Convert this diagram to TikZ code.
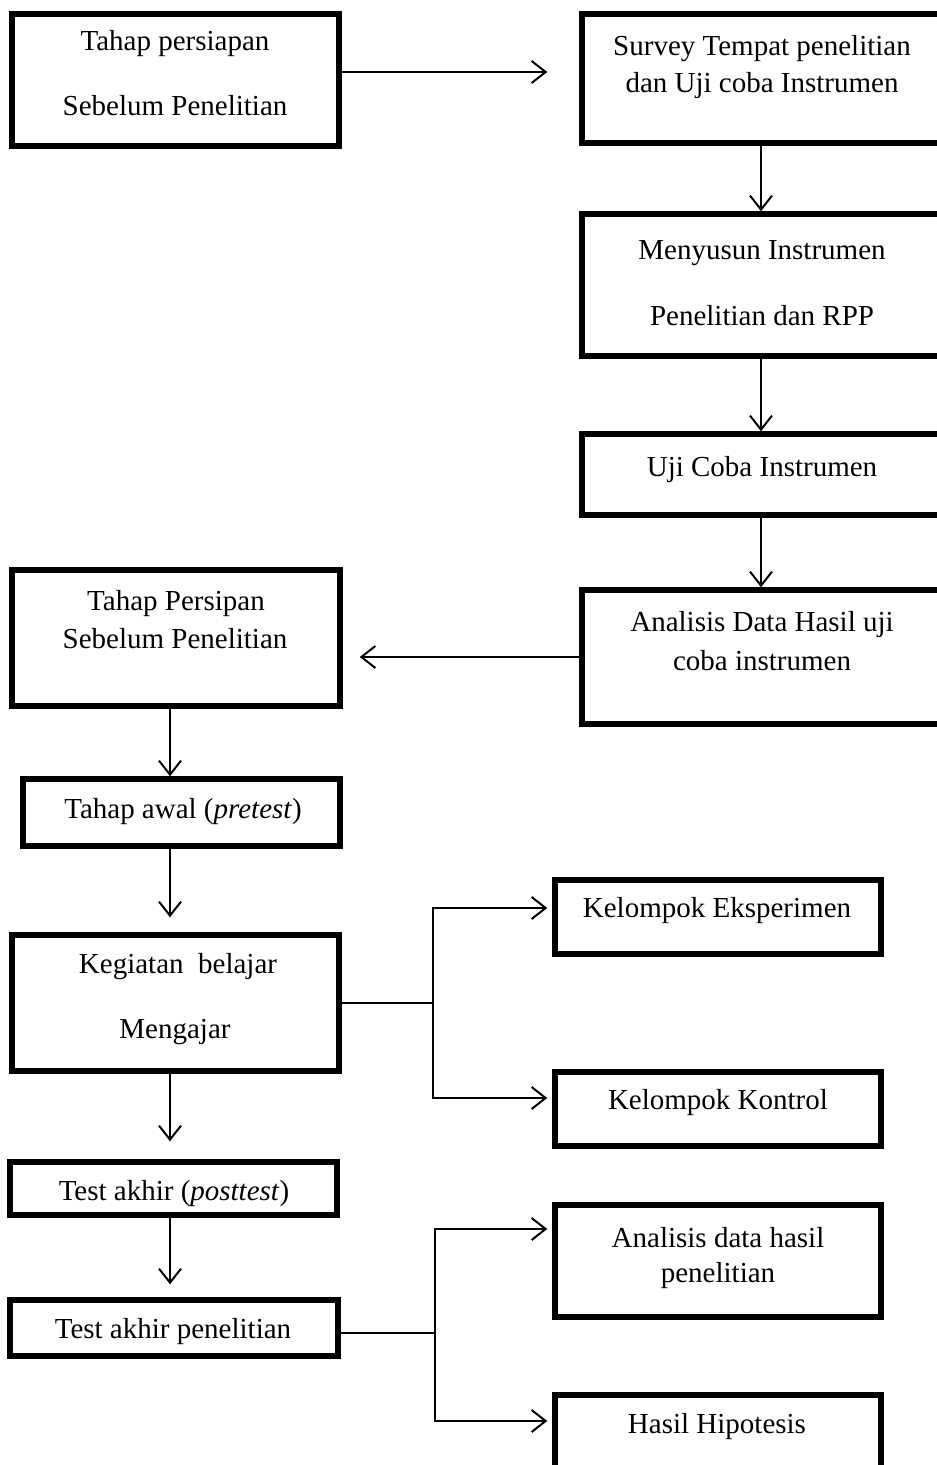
\documentclass[tikz,border=0pt]{standalone}
\usepackage{fontspec}
\setmainfont{Liberation Serif}
\usetikzlibrary{arrows.meta}
\begin{document}
\begin{tikzpicture}[x=1pt,y=-1pt,
  box/.style={draw,line width=5.5pt,rectangle,inner sep=0pt},
  txt/.style={anchor=base,inner sep=0pt,font=\fontsize{29}{34}\selectfont},
  conn/.style={line width=2pt},
  arr/.style={conn,-{Straight Barb[length=14pt,width=22pt]}}]
\useasboundingbox (0,0) rectangle (937,1465);
\clip (0,0) rectangle (937,1465);
\fill[white] (0,0) rectangle (937,1465);
% boxes
\node[box,minimum width=327,minimum height=132] (b1) at (175.5,80) {};
\node[box,minimum width=358,minimum height=129] (b2) at (761,78.5) {};
\node[box,minimum width=358,minimum height=142] (b3) at (761,285) {};
\node[box,minimum width=358,minimum height=81] (b4) at (761,474.5) {};
\node[box,minimum width=358,minimum height=134] (b5) at (761,657) {};
\node[box,minimum width=328,minimum height=136] (b6) at (176,638) {};
\node[box,minimum width=317,minimum height=67] (b7) at (181.5,812.5) {};
\node[box,minimum width=327,minimum height=136] (b8) at (175.5,1003) {};
\node[box,minimum width=326,minimum height=74] (b9) at (718,917) {};
\node[box,minimum width=326,minimum height=74] (b10) at (718,1109) {};
\node[box,minimum width=327,minimum height=53] (b11) at (173.5,1188.5) {};
\node[box,minimum width=328,minimum height=56] (b12) at (174,1328) {};
\node[box,minimum width=326,minimum height=112] (b13) at (718,1261) {};
\node[box,minimum width=326,minimum height=85] (b14) at (718,1437.5) {};
% texts
\node[txt] (t1a) at (175,50) {Tahap persiapan};
\node[txt] (t1b) at (175,115) {Sebelum Penelitian};
\node[txt] (t2a) at (762,55) {Survey Tempat penelitian};
\node[txt] (t2b) at (762,92) {dan Uji coba Instrumen};
\node[txt] (t3a) at (762,259) {Menyusun Instrumen};
\node[txt] (t3b) at (762,325) {Penelitian dan RPP};
\node[txt] (t4) at (762,476) {Uji Coba Instrumen};
\node[txt] (t5a) at (762,631) {Analisis Data Hasil uji};
\node[txt] (t5b) at (762,670) {coba instrumen};
\node[txt] (t6a) at (176,610) {Tahap Persipan};
\node[txt] (t6b) at (175,648) {Sebelum Penelitian};
\node[txt] (t7) at (183,818) {Tahap awal (\textit{pretest})};
\node[txt] (t8a) at (178,973) {Kegiatan\ \ belajar};
\node[txt] (t8b) at (175,1038) {Mengajar};
\node[txt] (t9) at (717,917) {Kelompok Eksperimen};
\node[txt] (t10) at (718,1109) {Kelompok Kontrol};
\node[txt] (t11) at (174,1200) {Test akhir (\textit{posttest})};
\node[txt] (t12) at (173,1338) {Test akhir penelitian};
\node[txt] (t13a) at (718,1247) {Analisis data hasil};
\node[txt] (t13b) at (718,1282) {penelitian};
\node[txt] (t14) at (717,1433) {Hasil Hipotesis};
% helper coordinates
\coordinate (cx) at (170,0);
\coordinate (a12) at (0,72);
\coordinate (j1) at (433,0);
\coordinate (e9) at (0,908);
\coordinate (e10) at (0,1098);
\coordinate (j2) at (435,0);
\coordinate (e12) at (0,1333);
\coordinate (e13) at (0,1229);
\coordinate (e14) at (0,1421);
% connectors
\draw[arr,shorten >=32pt] (b1.east |- a12) -- (b2.west |- a12);
\draw[arr] (b2.south) -- (b3.north);
\draw[arr] (b3.south) -- (b4.north);
\draw[arr] (b4.south) -- (b5.north);
\draw[arr,shorten >=17pt] (b5.west) -- (b5.west -| b6.east);
\draw[arr] (b6.south -| cx) -- (b7.north -| cx);
\draw[arr,shorten >=15pt] (b7.south -| cx) -- (b8.north -| cx);
\draw[arr,shorten >=18pt] (b8.south -| cx) -- (b11.north -| cx);
\draw[arr,shorten >=13pt] (b11.south -| cx) -- (b12.north -| cx);
\draw[conn] (b8.east) -- (b8.east -| j1);
\draw[arr,shorten >=5pt] (b8.east -| j1) |- (b9.west |- e9);
\draw[arr,shorten >=5pt] (b8.east -| j1) |- (b10.west |- e10);
\draw[conn] (b12.east |- e12) -- (j2 |- e12);
\draw[arr,shorten >=5pt] (j2 |- e12) |- (b13.west |- e13);
\draw[arr,shorten >=5pt] (j2 |- e12) |- (b14.west |- e14);
\end{tikzpicture}
\end{document}
